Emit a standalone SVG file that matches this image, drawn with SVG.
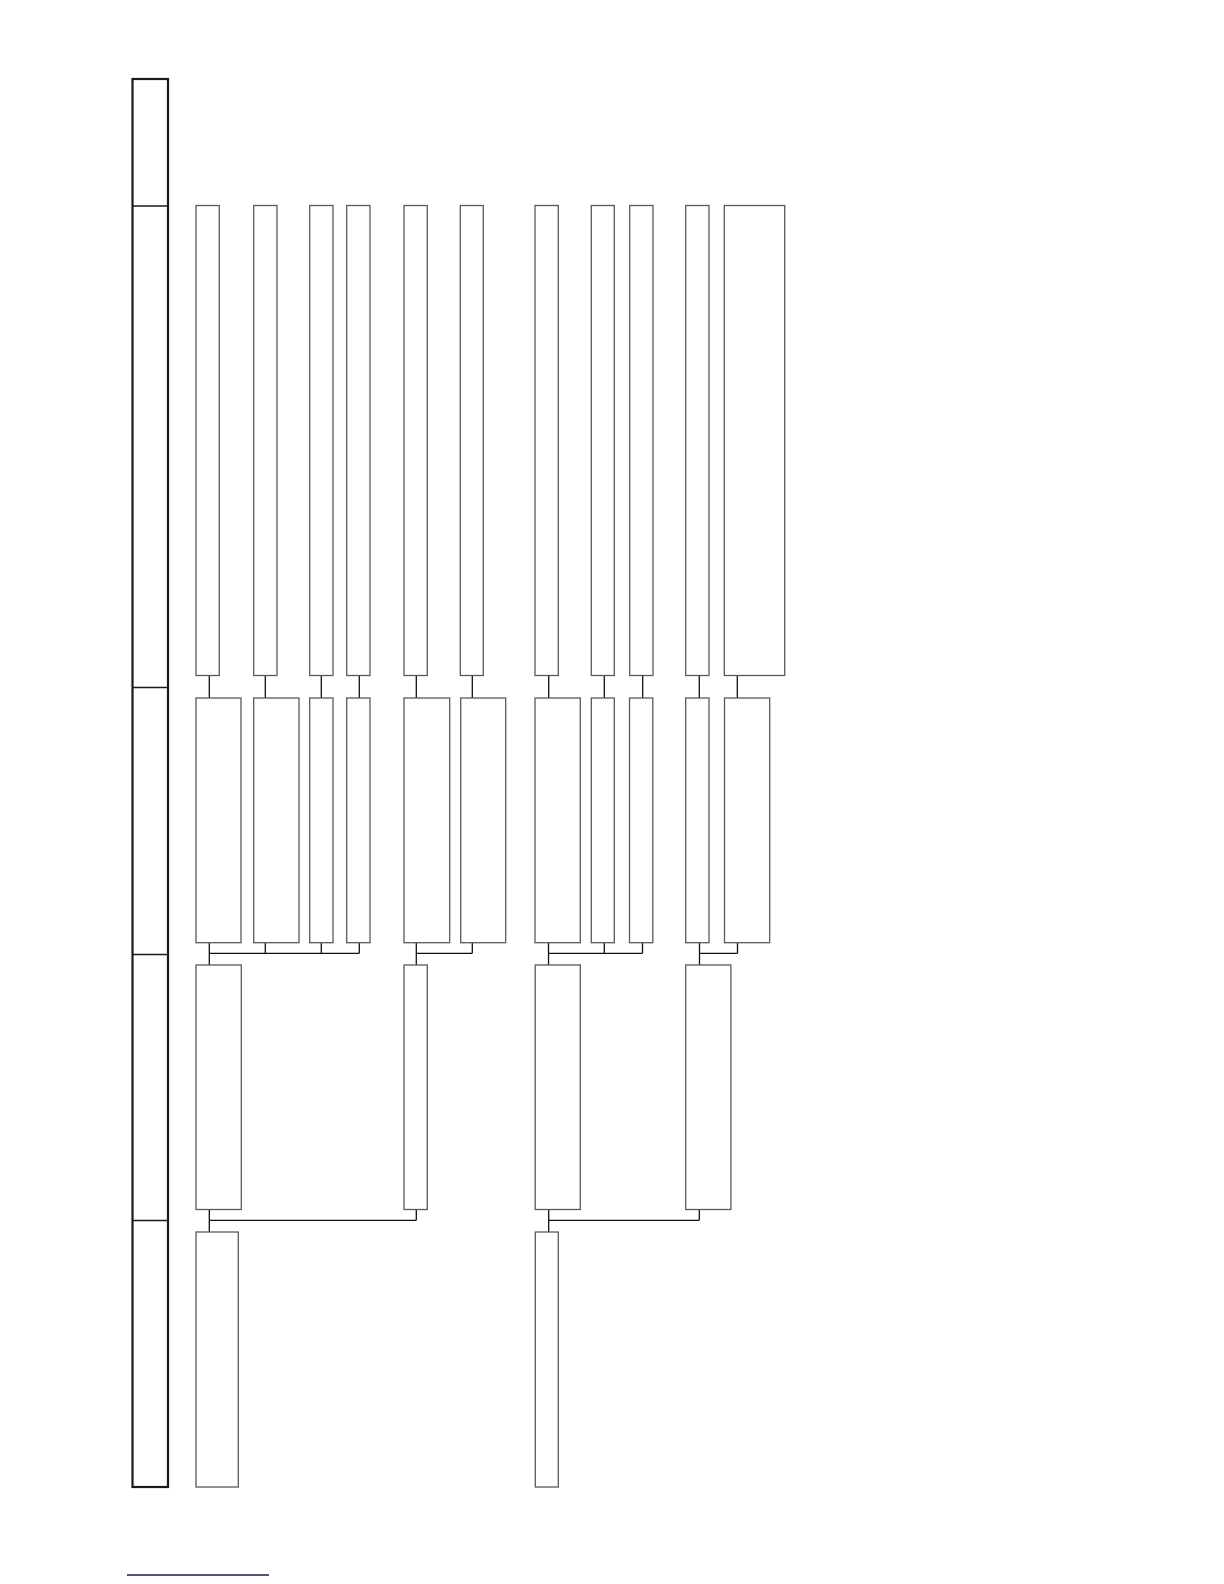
<svg xmlns="http://www.w3.org/2000/svg" width="1224" height="1584" viewBox="0 0 1224 1584">
<style>
.n{fill:#fff;stroke:#5a5a5a;stroke-width:1.3}
.c{fill:none;stroke:#111;stroke-width:1.3}
.frame{fill:#fff;stroke:#1a1a1a;stroke-width:2.2}
.div{stroke:#1a1a1a;stroke-width:1.5}
</style>
<rect width="1224" height="1584" fill="#fff"/>
<g id="levels">
<rect class="frame" x="132.5" y="79" width="35.5" height="1408"/>
<line class="div" x1="132.5" y1="206" x2="168" y2="206"/>
<line class="div" x1="132.5" y1="687.5" x2="168" y2="687.5"/>
<line class="div" x1="132.5" y1="954.5" x2="168" y2="954.5"/>
<line class="div" x1="132.5" y1="1220.5" x2="168" y2="1220.5"/>
</g>
<g id="connectors">
<path class="c" d="M209.3,675.5V698 M265.3,675.5V698 M321.3,675.5V698 M359.3,675.5V698 M416.3,675.5V698 M472.3,675.5V698 M548.7,675.5V698 M604.3,675.5V698 M642.7,675.5V698 M699.3,675.5V698 M737.3,675.5V698"/>
<path class="c" d="M209.3,942.7V965 M265.3,942.7V953.3 M321.3,942.7V953.3 M359.3,942.7V953.3 M209.3,953.3H359.3"/>
<path class="c" d="M416.3,942.7V965 M472.3,942.7V953.3 M416.3,953.3H472.3"/>
<path class="c" d="M548.5,942.7V965 M604.3,942.7V953.3 M642.5,942.7V953.3 M548.5,953.3H642.5"/>
<path class="c" d="M699.5,942.7V965 M737.5,942.7V953.3 M699.5,953.3H737.5"/>
<path class="c" d="M209.3,1209.5V1232 M416.3,1209.5V1220.3 M209.3,1220.3H416.3"/>
<path class="c" d="M548.7,1209.5V1232 M699.3,1209.5V1220.3 M548.7,1220.3H699.3"/>
</g>
<g id="row1">
<rect id="t1" class="n" x="196" y="205.5" width="23.3" height="470"/>
<rect id="t2" class="n" x="253.7" y="205.5" width="23.3" height="470"/>
<rect id="t3" class="n" x="309.7" y="205.5" width="23.3" height="470"/>
<rect id="t4" class="n" x="346.7" y="205.5" width="23.3" height="470"/>
<rect id="t5" class="n" x="404" y="205.5" width="23.3" height="470"/>
<rect id="t6" class="n" x="460.3" y="205.5" width="23" height="470"/>
<rect id="t7" class="n" x="535" y="205.5" width="23.3" height="470"/>
<rect id="t8" class="n" x="591.3" y="205.5" width="23" height="470"/>
<rect id="t9" class="n" x="629.7" y="205.5" width="23.3" height="470"/>
<rect id="t10" class="n" x="685.7" y="205.5" width="23.3" height="470"/>
<rect id="t11" class="n" x="724.3" y="205.5" width="60.4" height="470"/>
</g>
<g id="row2">
<rect id="m1" class="n" x="196" y="698" width="45" height="244.7"/>
<rect id="m2" class="n" x="253.7" y="698" width="45.3" height="244.7"/>
<rect id="m3" class="n" x="309.7" y="698" width="23.3" height="244.7"/>
<rect id="m4" class="n" x="346.7" y="698" width="23.3" height="244.7"/>
<rect id="m5" class="n" x="404" y="698" width="45.7" height="244.7"/>
<rect id="m6" class="n" x="460.7" y="698" width="45" height="244.7"/>
<rect id="m7" class="n" x="535" y="698" width="45.3" height="244.7"/>
<rect id="m8" class="n" x="591.3" y="698" width="23" height="244.7"/>
<rect id="m9" class="n" x="629.5" y="698" width="23.3" height="244.7"/>
<rect id="m10" class="n" x="685.7" y="698" width="23.3" height="244.7"/>
<rect id="m11" class="n" x="724.5" y="698" width="45.2" height="244.7"/>
</g>
<g id="row3">
<rect id="r1" class="n" x="196" y="965" width="45.3" height="244.5"/>
<rect id="r2" class="n" x="404" y="965" width="23.3" height="244.5"/>
<rect id="r3" class="n" x="535.2" y="965" width="45.1" height="244.5"/>
<rect id="r4" class="n" x="685.7" y="965" width="45.2" height="244.5"/>
</g>
<g id="row4">
<rect id="b1" class="n" x="196" y="1232" width="42.3" height="255"/>
<rect id="b2" class="n" x="535.3" y="1232" width="23" height="255"/>
</g>
<line x1="127" y1="1575" x2="269" y2="1575" stroke="#14146e" stroke-width="1.4"/>
</svg>
